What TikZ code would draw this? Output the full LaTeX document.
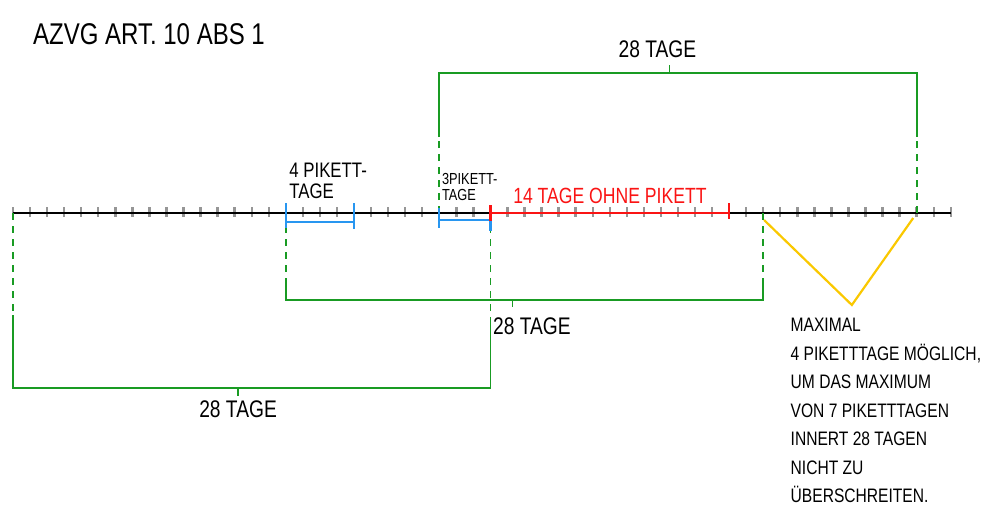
\documentclass[tikz,border=0pt]{standalone}
\usepackage{fontspec}
\setmainfont[FakeStretch=0.8]{Liberation Sans}
\usetikzlibrary{positioning}
\definecolor{klgreen}{RGB}{25,155,35}
\definecolor{pkblue}{RGB}{40,150,240}
\definecolor{okred}{RGB}{250,20,20}
\definecolor{maxyellow}{RGB}{250,200,0}
\definecolor{tickgray}{RGB}{150,150,150}
\tikzset{
    axis/.style={line width=2.6pt},
    daytick/.style={tickgray, line width=2.4pt},
    bracket/.style={klgreen, line width=1.8pt},
    bracketdash/.style={bracket, dash pattern=on 7pt off 6pt},
    pikett/.style={pkblue, line width=2.2pt},
    nopikett/.style={okred, line width=2.4pt},
    maxline/.style={maxyellow, line width=2.2pt},
    hand/.style={inner sep=0pt, font=\fontsize{#1}{#1}\selectfont},
    hand/.default=24
}

\begin{document}
\begin{tikzpicture}[x=17.05pt, y=-1pt, shift={(13pt,0pt)}]
            \useasboundingbox (-13pt,0pt) rectangle (976pt,-522pt);
            \foreach \d in {0,...,55}
                \draw[daytick] (\d,207) -- (\d,217);
            \draw[axis] (0,213) coordinate (start) -- (55,213) coordinate (end);
            \foreach \d in {0,16,20,25,28,42,44,53}
                \coordinate (d\d) at (\d,213);
            \node[hand=30, anchor=base west] at (1.17,45) (title) {AZVG ART. 10 ABS 1};
            \draw[bracketdash] (d25) -- (25,137) coordinate (top0);
            \draw[bracketdash] (d53) -- (53,137) coordinate (top1);
            \draw[bracket] (top0) -- (25,73) -- (53,73) -- (top1);
            \draw[bracket] (38.5,73) -- (38.5,65) coordinate (toptick);
            \node[hand, above=7pt of toptick, xshift=-12pt] (top) {28 TAGE};
            \draw[bracketdash] (d16) -- (16,283) coordinate (mid0);
            \draw[bracketdash] (d44) -- (44,283) coordinate (mid1);
            \draw[bracket] (mid0) -- (16,300) -- (44,300) -- (mid1);
            \draw[bracket] (29.3,300) -- (29.3,307) coordinate (midtick);
            \node[hand, anchor=north west] at (28.15,318) (mid) {28 TAGE};
            \draw[bracketdash] (d0) -- (0,315) coordinate (low0);
            \draw[bracketdash] (d28) -- (28,318) coordinate (low1);
            \draw[bracket] (low0) -- (0,388) -- (28,388) -- (low1);
            \draw[bracket] (13.2,388) -- (13.2,396) coordinate (lowtick);
            \node[hand, below=5pt of lowtick] (low) {28 TAGE};
            \draw[pikett] (16,203) -- (16,228) (16,222) -- (20,222) (20,203) -- (20,229);
            \draw[pikett] (25,208) -- (25,228) (25,220) -- (28,220) (28,206) -- (28,231);
            \node[hand=21, anchor=north west, align=left] at (16.2,163) (four) {4 PIKETT-\\TAGE};
            \node[hand=16, anchor=north west, align=left] at (25.15,173) (three) {3PIKETT-\\TAGE};
            \draw[nopikett] (28,205) -- (28,221) (d28) -- (d42) (42,203) -- (42,219);
            \node[hand=22, anchor=base west, okred] at (29.33,203) (nopik) {14 TAGE OHNE PIKETT};
            \draw[maxline] (44.05,220) -- (49.2,305) coordinate (vtip) -- (52.8,218);
            \node[hand, font=\fontsize{19.5}{28.5}\selectfont, anchor=north west, align=left] at (45.6,318) (note) {MAXIMAL\\4 PIKETTTAGE MÖGLICH,\\UM DAS MAXIMUM\\VON 7 PIKETTTAGEN\\INNERT 28 TAGEN\\NICHT ZU\\ÜBERSCHREITEN.};
        \end{tikzpicture}
\end{document}
